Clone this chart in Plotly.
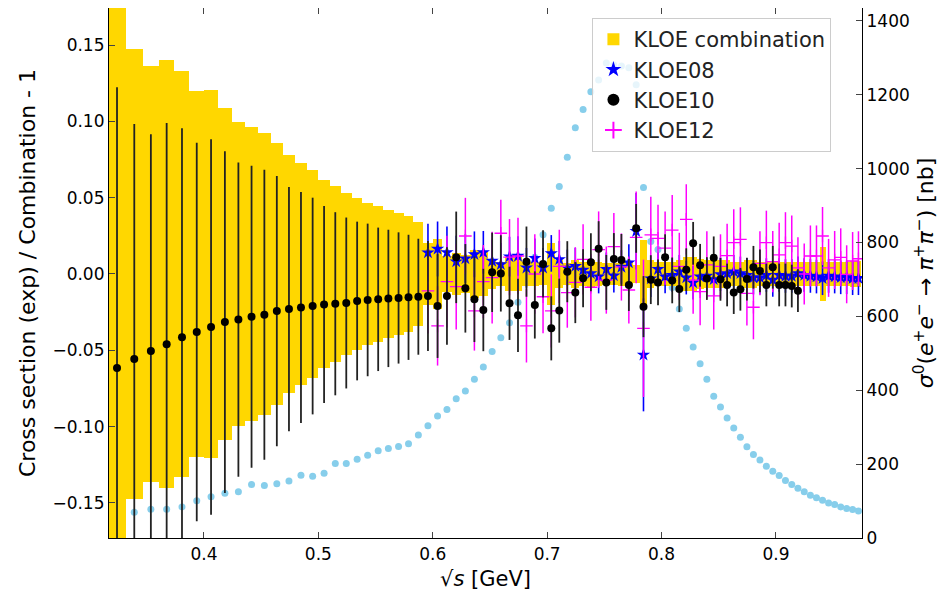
"""
KLOE pi+pi- cross sections: ratio of each measurement to the combination,
with the combined cross section itself drawn on a second axis.
"""
import numpy as np
import plotly.graph_objects as go

# sqrt(s) bin edges of the combination (GeV)
bin_edges = [
    0.3162, 0.3317, 0.3464, 0.3606, 0.3742, 0.3873, 0.4000, 0.4123, 0.4243, 0.4359,
    0.4472, 0.4583, 0.4690, 0.4796, 0.4899, 0.5000, 0.5099, 0.5196, 0.5292, 0.5385,
    0.5477, 0.5568, 0.5657, 0.5745, 0.5831, 0.5916, 0.6000, 0.6083, 0.6164, 0.6245,
    0.6325, 0.6403, 0.6481, 0.6557, 0.6633, 0.6708, 0.6782, 0.6856, 0.6928, 0.7000,
    0.7071, 0.7141, 0.7211, 0.7280, 0.7348, 0.7416, 0.7483, 0.7550, 0.7616, 0.7681,
    0.7746, 0.7810, 0.7874, 0.7937, 0.8000, 0.8062, 0.8124, 0.8185, 0.8246, 0.8307,
    0.8367, 0.8426, 0.8485, 0.8544, 0.8602, 0.8660, 0.8718, 0.8775, 0.8832, 0.8888,
    0.8944, 0.9000, 0.9055, 0.9110, 0.9165, 0.9220, 0.9274, 0.9327, 0.9381, 0.9434,
    0.9487, 0.9539, 0.9592, 0.9644, 0.9695, 0.9747,
]

# relative error of the combination per bin (half width of the band)
comb_err = [
    0.190, 0.1474, 0.136, 0.140, 0.133, 0.120, 0.1205, 0.109, 0.0996, 0.0963,
    0.0924, 0.0858, 0.078, 0.0727, 0.068, 0.0616, 0.0577, 0.053, 0.0498, 0.0465,
    0.0446, 0.042, 0.040, 0.038, 0.034,
    0.020, 0.023, 0.012, 0.0135, 0.0125, 0.0155, 0.0145, 0.010, 0.008, 0.011,
    0.011, 0.008, 0.008, 0.007, 0.020, 0.009, 0.007, 0.009, 0.008, 0.009,
    0.008, 0.007, 0.007, 0.008, 0.008, 0.006, 0.022, 0.009, 0.008, 0.008,
    0.008, 0.009, 0.011, 0.011, 0.010, 0.009, 0.009, 0.009, 0.009, 0.008,
    0.008, 0.009, 0.009, 0.008, 0.008, 0.008, 0.008, 0.008, 0.008, 0.008,
    0.008, 0.008, 0.008, 0.0175, 0.008, 0.008, 0.008, 0.008, 0.0085, 0.0085,
]

# point energies (GeV): below 0.59 only KLOE10, above it all three
energy_low = [
    0.3240, 0.3391, 0.3536, 0.3674, 0.3808, 0.3937, 0.4062, 0.4183, 0.4301, 0.4416,
    0.4528, 0.4637, 0.4743, 0.4848, 0.4950, 0.5050, 0.5148, 0.5244, 0.5339, 0.5431,
    0.5523, 0.5612, 0.5701, 0.5788, 0.5874,
]
energy_high = [
    0.5958, 0.6042, 0.6124, 0.6205, 0.6285, 0.6364, 0.6442, 0.6519, 0.6595, 0.6671,
    0.6745, 0.6819, 0.6892, 0.6964, 0.7036, 0.7106, 0.7176, 0.7246, 0.7314, 0.7382,
    0.7450, 0.7517, 0.7583, 0.7649, 0.7714, 0.7778, 0.7842, 0.7906, 0.7969, 0.8031,
    0.8093, 0.8155, 0.8216, 0.8276, 0.8337, 0.8396, 0.8456, 0.8515, 0.8573, 0.8631,
    0.8689, 0.8746, 0.8803, 0.8860, 0.8916, 0.8972, 0.9028, 0.9083, 0.9138, 0.9192,
    0.9247, 0.9301, 0.9354, 0.9407, 0.9460, 0.9513, 0.9566, 0.9618, 0.9670, 0.9721,
]

kloe08 = [
    0.0140, 0.0164, 0.0142, 0.0081, 0.0101, 0.0129, 0.0142, 0.0085, 0.0063, 0.0114,
    0.0118, 0.0041, 0.0103, 0.0041, 0.0135, 0.0096, 0.0040, 0.0052, 0.0026, 0.0004,
    -0.0017, 0.0031, -0.0011, 0.0046, 0.0075, 0.0280, -0.0530, -0.0030, 0.0031, -0.0017,
    -0.0007, 0.0015, -0.0024, -0.0057, -0.0017, -0.0013, -0.0035, -0.0002, 0.0004, 0.0015,
    0.0004, -0.0007, -0.0024, -0.0024, -0.0007, -0.0039, -0.0007, -0.0013, -0.0013, 0.0004,
    -0.0007, -0.0013, -0.0017, -0.0028, -0.0013, -0.0017, -0.0022, -0.0022, -0.0028, -0.0028,
]
kloe08_err = [
    0.019, 0.018, 0.017, 0.017, 0.016, 0.015, 0.014, 0.014, 0.014, 0.013,
    0.013, 0.013, 0.013, 0.013, 0.012, 0.012, 0.012, 0.012, 0.011, 0.011,
    0.011, 0.011, 0.011, 0.011, 0.012, 0.025, 0.037, 0.012, 0.011, 0.011,
    0.011, 0.011, 0.011, 0.011, 0.011, 0.011, 0.011, 0.011, 0.011, 0.011,
    0.011, 0.011, 0.011, 0.011, 0.011, 0.011, 0.011, 0.011, 0.011, 0.011,
    0.011, 0.011, 0.011, 0.011, 0.011, 0.011, 0.011, 0.011, 0.011, 0.011,
]

kloe10 = [
    -0.0616, -0.0557, -0.0505, -0.0460, -0.0415, -0.0380, -0.0347, -0.0315, -0.0299, -0.0280,
    -0.0267, -0.0243, -0.0230, -0.0220, -0.0210, -0.0200, -0.0195, -0.0190, -0.0177, -0.0170,
    -0.0166, -0.0160, -0.0157, -0.0153, -0.0149,
    -0.0144, -0.0210, -0.0144, 0.0109, -0.0094, -0.0166, -0.0236, 0.0011, 0.0004, -0.0192,
    -0.0271, 0.0081, -0.0203, 0.0066, -0.0356, -0.0240, 0.0015, -0.0122, -0.0028, 0.0077,
    0.0166, -0.0055, 0.0098, 0.0092, -0.0072, 0.0299, -0.0214, -0.0037, -0.0055, 0.0110,
    -0.0042, -0.0099, 0.0028, 0.0201, 0.0057, -0.0030, 0.0106, -0.0035, -0.0072, -0.0122,
    -0.0100, -0.0033, 0.0044, 0.0020, -0.0072, 0.0044, -0.0072, -0.0072, -0.0079, -0.0109,
]
kloe10_err = [
    0.184, 0.154, 0.142, 0.145, 0.137, 0.124, 0.123, 0.112, 0.103, 0.099,
    0.095, 0.0885, 0.080, 0.0757, 0.071, 0.0645, 0.060, 0.056, 0.052, 0.050,
    0.047, 0.045, 0.043, 0.041, 0.038,
    0.036, 0.034, 0.032, 0.030, 0.029, 0.028, 0.027, 0.026, 0.025, 0.024,
    0.024, 0.023, 0.022, 0.022, 0.021, 0.021, 0.020, 0.020, 0.019, 0.019,
    0.018, 0.018, 0.017, 0.017, 0.017, 0.016, 0.020, 0.016, 0.015, 0.015,
    0.015, 0.015, 0.014, 0.014, 0.014, 0.014, 0.014, 0.014, 0.014, 0.014,
    0.014, 0.014, 0.014, 0.014, 0.014, 0.014, 0.014, 0.014, 0.014, 0.014,
]

kloe12 = [
    -0.0110, -0.0340, -0.0050, -0.0083, 0.0249, -0.0242, -0.0050, -0.0024, 0.0267, 0.0110,
    0.0118, -0.0340, 0.0000, -0.0149, -0.0242, 0.0050, -0.0122, -0.0055, 0.0096, -0.0087,
    0.0160, -0.0040, 0.0179, 0.0046, -0.0105, 0.0240, -0.0356, 0.0256, 0.0234, 0.0170,
    0.0288, 0.0050, 0.0358, -0.0040, -0.0116, 0.0060, -0.0144, 0.0050, 0.0120, 0.0205,
    0.0227, -0.0127, -0.0218, 0.0070, 0.0205, 0.0081, 0.0125, 0.0205, 0.0183, 0.0040,
    0.0000, 0.0118, 0.0118, 0.0249, 0.0040, 0.0092, 0.0109, -0.0002, 0.0085, 0.0100,
]
kloe12_err = [
    0.028, 0.026, 0.030, 0.028, 0.025, 0.026, 0.024, 0.030, 0.022, 0.025,
    0.025, 0.024, 0.026, 0.024, 0.024, 0.024, 0.023, 0.023, 0.023, 0.022,
    0.025, 0.022, 0.022, 0.022, 0.022, 0.030, 0.045, 0.025, 0.022, 0.024,
    0.023, 0.022, 0.023, 0.022, 0.022, 0.022, 0.022, 0.021, 0.021, 0.022,
    0.021, 0.021, 0.021, 0.021, 0.021, 0.020, 0.021, 0.020, 0.020, 0.020,
    0.020, 0.020, 0.020, 0.019, 0.019, 0.019, 0.019, 0.019, 0.019, 0.018,
]

# combined bare cross section (nb), from the second point on
sigma0 = [
    70, 78, 78, 84, 101, 112, 121, 125, 145, 142,
    147, 154, 170, 167, 175, 202, 202, 213, 224, 236,
    242, 248, 255, 279,
    304, 330, 348, 377, 398, 430, 463, 505, 542, 583,
    638, 695, 760, 821, 893, 952, 1031, 1111, 1160, 1208,
    1240, 1286, 1281, 1278, 1273, 1227, 949, 803, 781, 728,
    678, 620, 568, 517, 472, 430, 384, 355, 325, 298,
    273, 247, 226, 211, 194, 181, 169, 156, 145, 135,
    125, 116, 109, 102, 95, 91, 84, 80, 77, 73,
]

edges = np.array(bin_edges)
band = np.array(comb_err)
energy_all = energy_low + energy_high

FONT = "DejaVu Sans"

fig = go.Figure()

# cross section on the right-hand axis (drawn underneath)
fig.add_trace(go.Scatter(
    x=energy_all[1:], y=sigma0, yaxis="y", mode="markers",
    marker=dict(size=7, color="#87CEEB"), showlegend=False,
))

fig.add_trace(go.Bar(
    x=(edges[:-1] + edges[1:]) / 2, width=np.diff(edges),
    base=-band, y=2 * band, yaxis="y2",
    marker=dict(color="#FFD700", line=dict(width=0)),
    name="KLOE combination", legendrank=1,
))

fig.add_trace(go.Scatter(
    x=energy_high, y=kloe08, yaxis="y2", mode="markers", name="KLOE08",
    marker=dict(symbol="star", size=10, color="blue", line=dict(width=0)),
    error_y=dict(type="data", array=kloe08_err, width=0, thickness=1.6, color="blue"),
    legendrank=2,
))
fig.add_trace(go.Scatter(
    x=energy_high, y=kloe12, yaxis="y2", mode="markers", name="KLOE12",
    marker=dict(symbol="cross-thin", size=9, color="magenta",
                line=dict(width=1.3, color="magenta")),
    error_y=dict(type="data", array=kloe12_err, width=0, thickness=1.5, color="magenta"),
    legendrank=4,
))
fig.add_trace(go.Scatter(
    x=energy_all[:len(kloe10)], y=kloe10, yaxis="y2", mode="markers", name="KLOE10",
    marker=dict(symbol="circle", size=8, color="black"),
    error_y=dict(type="data", array=kloe10_err, width=0, thickness=1.8, color="#222222"),
    legendrank=3,
))

axis_common = dict(
    showline=True, linecolor="black", linewidth=1.2,
    ticks="inside", ticklen=6, tickwidth=1, tickcolor="#444444",
    showgrid=False, zeroline=False,
    tickfont=dict(family=FONT, size=17, color="black"),
)

# the page body keeps an 8px margin, so the figure is 8px smaller each way
fig.update_layout(
    width=942, height=585,
    margin=dict(l=101, r=88, t=0, b=55),
    paper_bgcolor="white", plot_bgcolor="white",
    font=dict(family=FONT, color="black"),
    bargap=0,
    xaxis=dict(
        range=[0.3170, 0.9752], dtick=0.1, tick0=0, tickformat=".1f",
        mirror="ticks",
        title=dict(text="√<i>s</i> [GeV]", font=dict(family=FONT, size=21), standoff=8),
        **axis_common,
    ),
    yaxis=dict(
        side="right", range=[0, 1435], dtick=200, tick0=0,
        title=dict(
            text="<i>σ</i><sup>0</sup>(<i>e</i><sup>+</sup><i>e</i><sup>−</sup>"
                 " → <i>π</i><sup>+</sup><i>π</i><sup>−</sup>) [nb]",
            font=dict(family=FONT, size=22), standoff=8,
        ),
        **axis_common,
    ),
    yaxis2=dict(
        side="left", overlaying="y", anchor="x",
        range=[-0.1730, 0.1743], dtick=0.05, tick0=0, tickformat=".2f",
        title=dict(text="Cross section (exp) / Combination - 1",
                   font=dict(family=FONT, size=22), standoff=10),
        **axis_common,
    ),
    legend=dict(
        x=0.642, y=0.981, xanchor="left", yanchor="top",
        bgcolor="rgba(255,255,255,0.8)", bordercolor="#cccccc", borderwidth=1,
        font=dict(family=FONT, size=21, color="#222222"),
        itemsizing="constant", tracegroupgap=2,
    ),
)

fig.write_html("out.html")
